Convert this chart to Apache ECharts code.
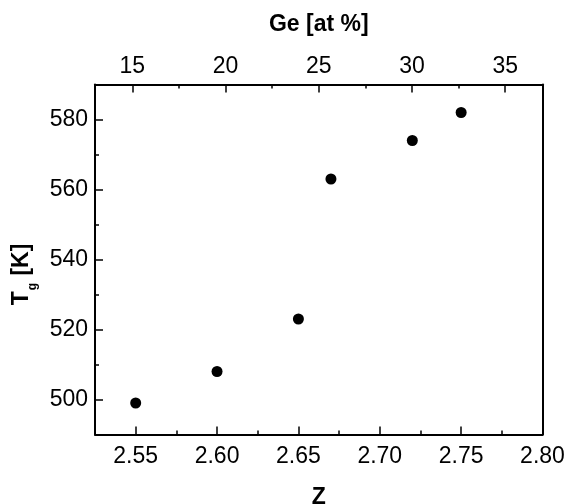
<!DOCTYPE html>
<html>
<head>
<meta charset="utf-8">
<script src="https://cdn.jsdelivr.net/npm/echarts@6/dist/echarts.min.js"></script>
<style>
  html, body { margin: 0; padding: 0; background: #fff; }
  #chart { width: 568px; height: 504px; }
</style>
</head>
<body>
<div id="chart"></div>
<script>
// data
const zValues = [2.55, 2.60, 2.65, 2.67, 2.72, 2.75];
const tgValues = [499, 508, 523, 563, 574, 582];

// tick positions
const zMajor = [2.55, 2.60, 2.65, 2.70, 2.75, 2.80];
const zMinor = [2.575, 2.625, 2.675, 2.725, 2.775];
const geMajor = [15, 20, 25, 30, 35];
const geMinor = [17.5, 22.5, 27.5, 32.5];
const tgMajor = [500, 520, 540, 560, 580];
const tgMinor = [510, 530, 550, 570];
const tgAll = [500, 510, 520, 530, 540, 550, 560, 570, 580];

const font = "'Liberation Sans', Arial, sans-serif";
const black = "#000";

const chart = echarts.init(document.getElementById("chart"));

const lineStyle = { color: black, width: 2 };
const tickStyle = { color: black, width: 1.5 };
const labelStyle = { color: black, fontSize: 23, fontFamily: font };
const titleStyle = { color: black, fontSize: 23, fontWeight: "bold", fontFamily: font };

chart.setOption({
  animation: false,
  backgroundColor: "#fff",
  grid: { left: 95, right: 25.5, top: 84.5, bottom: 69.5, outerBoundsMode: "none" },
  xAxis: [
    {
      // Z, bottom
      type: "value",
      position: "bottom",
      min: 2.525,
      max: 2.8,
      name: "Z",
      nameLocation: "middle",
      nameGap: 52,
      nameTextStyle: titleStyle,
      axisLine: { show: true, onZero: false, lineStyle: lineStyle },
      axisTick: { show: true, inside: true, length: 8, customValues: zMajor, lineStyle: tickStyle },
      axisLabel: { ...labelStyle, margin: 11, customValues: zMajor, formatter: (v) => v.toFixed(2) },
      splitLine: { show: false }
    },
    {
      // Ge, top
      type: "value",
      position: "top",
      min: 13,
      max: 37,
      name: "Ge [at %]",
      nameLocation: "middle",
      nameGap: 48,
      nameTextStyle: titleStyle,
      axisLine: { show: true, onZero: false, lineStyle: lineStyle },
      axisTick: { show: true, inside: true, length: 8, customValues: geMajor, lineStyle: tickStyle },
      axisLabel: { ...labelStyle, margin: 6, customValues: geMajor },
      splitLine: { show: false }
    },
    {
      // Z minor ticks
      type: "value",
      position: "bottom",
      min: 2.525,
      max: 2.8,
      axisLine: { show: false },
      axisTick: { show: true, inside: true, length: 4, customValues: zMinor, lineStyle: tickStyle },
      axisLabel: { show: false },
      splitLine: { show: false }
    },
    {
      // Ge minor ticks
      type: "value",
      position: "top",
      min: 13,
      max: 37,
      axisLine: { show: false },
      axisTick: { show: true, inside: true, length: 4, customValues: geMinor, lineStyle: tickStyle },
      axisLabel: { show: false },
      splitLine: { show: false }
    }
  ],
  yAxis: [
    {
      type: "value",
      position: "left",
      min: 490,
      max: 590,
      name: "{t|T}{s|g}{t| [K]}",
      nameLocation: "middle",
      nameRotate: 90,
      nameGap: 53,
      nameTextStyle: {
        ...titleStyle,
        padding: [0, 30, 0, 0],
        rich: {
          t: { fontSize: 23, fontWeight: "bold", fontFamily: font, color: black },
          s: { fontSize: 12, fontWeight: "bold", fontFamily: font, color: black, padding: [22, 1, 0, 1] }
        }
      },
      axisLine: { show: true, onZero: false, lineStyle: lineStyle },
      axisTick: { show: true, inside: true, length: 8, customValues: tgMajor, lineStyle: tickStyle },
      axisLabel: { ...labelStyle, margin: 7, customValues: tgMajor },
      splitLine: { show: false }
    },
    {
      // minor ticks, left
      type: "value",
      position: "left",
      min: 490,
      max: 590,
      axisLine: { show: false },
      axisTick: { show: true, inside: true, length: 4, customValues: tgMinor, lineStyle: tickStyle },
      axisLabel: { show: false },
      splitLine: { show: false }
    },
    {
      // right frame with tiny nubs
      type: "value",
      position: "right",
      min: 490,
      max: 590,
      axisLine: { show: true, onZero: false, lineStyle: lineStyle },
      axisTick: { show: true, inside: false, length: 1.5, customValues: tgAll, lineStyle: { color: black, width: 1 } },
      axisLabel: { show: false },
      splitLine: { show: false }
    }
  ],
  series: [
    {
      type: "scatter",
      xAxisIndex: 0,
      yAxisIndex: 0,
      symbol: "circle",
      symbolSize: 11,
      itemStyle: { color: black, opacity: 1 },
      data: zValues.map((z, i) => [z, tgValues[i]])
    }
  ]
});
</script>
</body>
</html>
